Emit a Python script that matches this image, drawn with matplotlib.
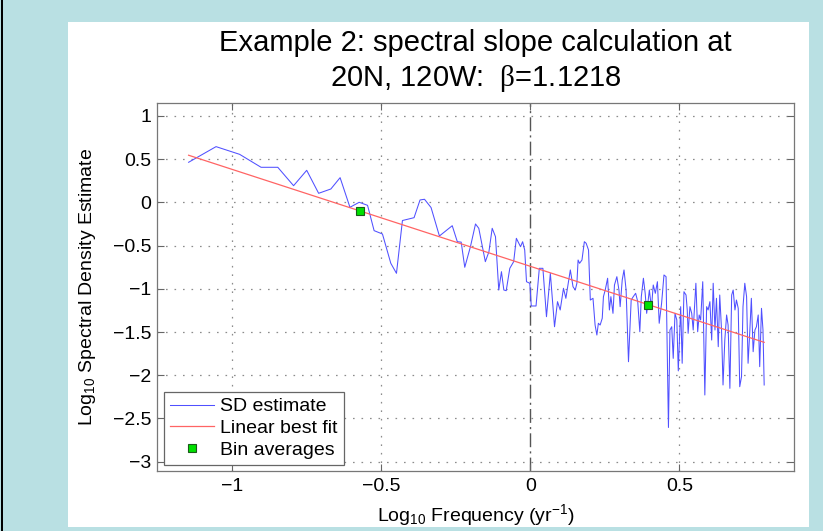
import matplotlib
matplotlib.use("Agg")
import matplotlib.pyplot as plt
from matplotlib.patches import Rectangle

plt.rcParams['font.family'] = ['Liberation Sans', 'DejaVu Sans']
plt.rcParams['mathtext.fontset'] = 'custom'
plt.rcParams['mathtext.rm'] = 'Liberation Serif'
plt.rcParams['mathtext.it'] = 'Liberation Sans:italic'
plt.rcParams['mathtext.default'] = 'regular'

# ---- data ----
log_freq = [
    -1.146, -1.054, -0.975, -0.903, -0.847, -0.794, -0.750, -0.710, -0.669, -0.638,
    -0.605, -0.574, -0.546, -0.524, -0.496, -0.468, -0.449, -0.429, -0.390, -0.370,
    -0.355, -0.333, -0.305, -0.262, -0.245, -0.232, -0.220, -0.201, -0.184, -0.173,
    -0.151, -0.139, -0.128, -0.117, -0.106, -0.097, -0.089, -0.081, -0.069, -0.056,
    -0.047, -0.033, -0.026, -0.019, -0.013, -0.002, 0.003, 0.019, 0.030, 0.042,
    0.054, 0.067, 0.081, 0.091, 0.100, 0.111, 0.119, 0.134, 0.143, 0.1505,
    0.156, 0.160, 0.165, 0.173, 0.181, 0.187, 0.195, 0.201, 0.210, 0.217,
    0.223, 0.228, 0.234, 0.241, 0.245, 0.251, 0.259, 0.265, 0.270, 0.277,
    0.282, 0.290, 0.297, 0.301, 0.308, 0.314, 0.321, 0.329, 0.338, 0.345,
    0.353, 0.360, 0.367, 0.372, 0.379, 0.385, 0.390, 0.399, 0.406, 0.412,
    0.419, 0.426, 0.432, 0.440, 0.448, 0.455, 0.463, 0.468, 0.474, 0.479,
    0.485, 0.491, 0.496, 0.504, 0.509, 0.515, 0.522, 0.526, 0.529, 0.535,
    0.541, 0.546, 0.555, 0.561, 0.566, 0.571, 0.578, 0.585, 0.591, 0.596,
    0.602, 0.608, 0.613, 0.619, 0.624, 0.630, 0.635, 0.641, 0.646, 0.652,
    0.658, 0.663, 0.669, 0.675, 0.680, 0.686, 0.691, 0.697, 0.702, 0.708,
    0.713, 0.719, 0.725, 0.730, 0.736, 0.741, 0.747, 0.753, 0.758, 0.764,
    0.769, 0.775, 0.780, 0.784,
]
log_sd = [
    0.464, 0.645, 0.556, 0.406, 0.406, 0.193, 0.371, 0.105, 0.155, 0.286,
    -0.057, 0.001, -0.034, -0.327, -0.366, -0.705, -0.821, -0.210, -0.177, 0.028,
    0.036, -0.060, -0.389, -0.270, -0.455, -0.460, -0.751, -0.513, -0.250, -0.300,
    -0.686, -0.571, -0.300, -0.397, -1.014, -0.802, -1.014, -1.022, -0.763, -0.686,
    -0.416, -0.513, -0.455, -0.551, -0.918, -0.936, -1.199, -1.199, -0.763, -0.763,
    -1.323, -0.821, -1.439, -1.149, -1.245, -0.994, -1.110, -0.782, -0.976, -1.014,
    -0.936, -0.667, -0.705, -0.667, -0.455, -0.473, -0.551, -1.130, -1.110, -1.419,
    -1.535, -1.399, -1.419, -1.341, -1.091, -1.014, -0.878, -1.245, -1.091, -1.284,
    -0.956, -0.860, -1.014, -1.207, -0.898, -0.782, -1.014, -1.844, -1.130, -1.091,
    -1.052, -1.149, -1.497, -1.091, -0.878, -1.052, -1.284, -1.014, -1.226, -0.956,
    -1.052, -0.918, -1.399, -1.168, -0.840, -0.860, -2.605, -1.477, -1.439, -1.805,
    -1.284, -1.361, -1.950, -1.207, -1.862, -1.034, -1.072, -1.245, -1.515, -1.207,
    -1.284, -1.477, -0.936, -1.497, -1.303, -1.361, -0.918, -2.229, -1.207, -1.245,
    -1.149, -1.593, -0.936, -1.477, -1.110, -1.670, -1.072, -1.477, -2.113, -1.593,
    -1.303, -1.419, -2.152, -1.072, -1.014, -1.245, -1.130, -1.226, -2.133, -2.017,
    -1.207, -0.936, -1.091, -1.862, -1.477, -1.110, -1.728, -1.477, -1.439, -1.303,
    -1.901, -1.226, -1.477, -2.113,
]
beta = 1.1218
fit_intercept = -0.74
fit_x = [-1.146, 0.784]
fit_y = [fit_intercept - beta * v for v in fit_x]
bin_x = [-0.572, 0.394]
bin_y = [-0.096, -1.191]

xticks = [-1, -0.5, 0, 0.5]
yticks = [1, 0.5, 0, -0.5, -1, -1.5, -2, -2.5, -3]

W, H = 823, 531
fig = plt.figure(figsize=(W / 100, H / 100), dpi=100, facecolor='#b9e0e3')
fig.patches.append(Rectangle((68 / W, 1 - 527 / H), (809 - 68) / W, (527 - 22) / H,
                             transform=fig.transFigure, facecolor='white',
                             edgecolor='none', zorder=-2))
fig.patches.append(Rectangle((0.8 / W, 0), 2.4 / W, 1, transform=fig.transFigure,
                             facecolor='black', edgecolor='none', zorder=-2))

ax_h = 470.7 - 103
ax_w = 794 - 157
ax = fig.add_axes([157 / W, 1 - 470.7 / H, ax_w / W, ax_h / H])
ax.set_zorder(1)
ax.set_xlim(-1.252, 0.884)
ax.set_ylim(-3.105, 1.15)

gridc = '#8c8c8c'
for t in xticks:
    if t != 0:
        ax.axvline(t, color=gridc, lw=0.9, ls=(0, (1.3, 5.5)), zorder=1)
for t in yticks:
    ax.axhline(t, color=gridc, lw=0.9, ls=(0, (1.3, 5.5)), zorder=1)
ax.axvline(0, color='#555555', lw=1.0, ls=(0, (10, 3, 1.5, 3)), zorder=1)

ax.plot(log_freq, log_sd, color='#5050ff', lw=0.75, zorder=3, label='SD estimate')
ax.plot(fit_x, fit_y, color='#ff6464', lw=0.9, zorder=4, label='Linear best fit')
ax.plot(bin_x, bin_y, ls='none', marker='s', ms=6, mfc='#00e000', mec='#1a5a1a',
        mew=0.8, zorder=5, label='Bin averages')

ax.set_xticks(xticks)
ax.set_yticks(yticks)
ax.set_xticklabels(['\u22121', '\u22120.5', '0', '0.5'])
ax.set_yticklabels(['1', '0.5', '0', '\u22120.5', '\u22121', '\u22121.5', '\u22122',
                    '\u22122.5', '\u22123'])
ax.tick_params(direction='in', length=5, width=0.8, color='#666666', labelsize=14,
               top=True, right=True)
ax.tick_params(axis='x', pad=5)
ax.tick_params(axis='y', pad=4)
for s in ax.spines.values():
    s.set_color('#777777')
    s.set_linewidth(0.9)

ax.set_xlabel('Log$_{10}$ Frequency (yr$^{-1}$)', fontsize=14)
ax.xaxis.set_label_coords(0.5, -(521 - 470.7) / ax_h)
ax.xaxis.label.set_va('baseline')
ax.set_ylabel('Log$_{10}$ Spectral Density Estimate', fontsize=14)
ax.yaxis.set_label_coords((87.5 - 157) / ax_w, 0.5)
ax.yaxis.label.set_va('center')

cx = (157 + 794) / 2 / W
fig.text(cx, 1 - 51 / H, 'Example 2: spectral slope calculation at', fontsize=21,
         ha='center', va='baseline')
fig.text(cx, 1 - 86 / H, '20N, 120W:  $\\mathrm{\\beta}$=1.1218', fontsize=21,
         ha='center', va='baseline')

leg = ax.legend(loc='lower left', bbox_to_anchor=(7 / ax_w, 5.7 / ax_h),
                borderaxespad=0, fontsize=14, frameon=True, fancybox=False,
                edgecolor='#666666', framealpha=1, handlelength=2.25,
                handletextpad=0.35, labelspacing=0.22, borderpad=0.3)
leg.get_frame().set_linewidth(0.9)

fig.savefig('out.png', dpi=100, facecolor=fig.get_facecolor())
